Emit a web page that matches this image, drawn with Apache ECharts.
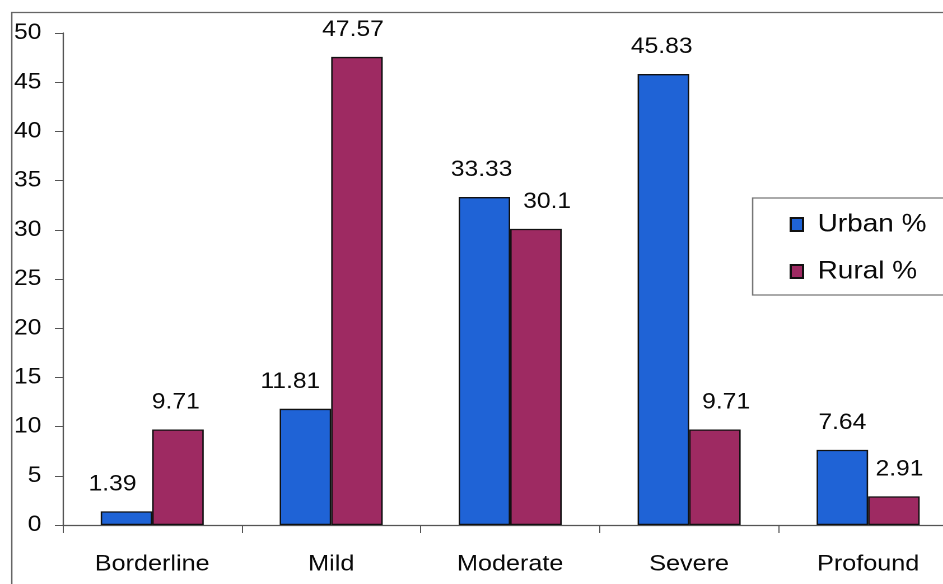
<!DOCTYPE html>
<html>
<head>
<meta charset="utf-8">
<script src="https://cdn.jsdelivr.net/npm/echarts@6/dist/echarts.min.js"></script>
<style>
  html, body { margin: 0; padding: 0; background: #fff; overflow: hidden; width: 943px; height: 584px; }
  /* the chart is drawn at a narrower width and widened horizontally */
  #chart { width: 880px; height: 584px; transform: scaleX(1.12); transform-origin: 0 0; }
</style>
</head>
<body>
<div id="chart"></div>
<script>
// Categories and series values
const categories = ['Borderline', 'Mild', 'Moderate', 'Severe', 'Profound'];
const urbanValues = [1.39, 11.81, 33.33, 45.83, 7.64];
const ruralValues = [9.71, 47.57, 30.1, 9.71, 2.91];
const seriesNames = ['Urban %', 'Rural %'];
const yTicks = { min: 0, max: 50, interval: 5 };

// Horizontal nudges for individual value labels (keeps neighbours apart)
const urbanLabelShift = [-12.5, -13.5, -2.5, -1.5, 0];
const ruralLabelShift = [-2, -3.5, 10, 10, 5];

const FONT = '"Liberation Sans", Arial, sans-serif';
const BLUE = '#1f63d6';
const MAROON = '#9e2a62';
const INK = '#0a0a0a';

function buildData(values, shifts) {
  return values.map((v, i) => ({ value: v, label: { offset: [shifts[i], 0] } }));
}

const chart = echarts.init(document.getElementById('chart'), null, { devicePixelRatio: 2 });

const labelStyle = {
  show: true,
  position: 'top',
  distance: 16,
  fontFamily: FONT,
  fontSize: 22,
  color: INK,
  formatter: p => String(p.value)
};

chart.setOption({
  backgroundColor: '#fff',
  animation: false,
  graphic: [{
    type: 'rect',
    left: 8, top: 10,
    shape: { width: 1000, height: 700 },
    style: { fill: 'none', stroke: '#666', lineWidth: 1.3 },
    z: -1
  }],
  grid: { left: 56, top: 33, width: 799, height: 492, containLabel: false },
  legend: {
    orient: 'vertical',
    left: 672, top: 198,
    padding: [14, 40, 11, 33],
    itemGap: 22,
    icon: 'rect',
    itemWidth: 11, itemHeight: 13,
    backgroundColor: '#fff',
    borderColor: '#777', borderWidth: 1.3,
    textStyle: { fontFamily: FONT, fontSize: 25, color: INK, padding: [0, 0, 0, 8] },
    data: seriesNames
  },
  xAxis: {
    type: 'category',
    data: categories,
    axisLine: { lineStyle: { color: '#555', width: 1.2 } },
    axisTick: { show: true, length: 8, lineStyle: { color: '#555' } },
    axisLabel: { fontFamily: FONT, fontSize: 22.5, color: INK, margin: 28 }
  },
  yAxis: {
    type: 'value',
    min: yTicks.min, max: yTicks.max, interval: yTicks.interval,
    axisLine: { show: true, lineStyle: { color: '#555', width: 1.2 } },
    axisTick: { show: true, length: 7, lineStyle: { color: '#555' } },
    splitLine: { show: false },
    axisLabel: { fontFamily: FONT, fontSize: 22, color: INK, margin: 19 }
  },
  series: [
    {
      name: seriesNames[0],
      type: 'bar',
      data: buildData(urbanValues, urbanLabelShift),
      barWidth: 46,
      barGap: '0%',
      itemStyle: { color: BLUE, borderColor: '#111', borderWidth: 1.3 },
      label: labelStyle
    },
    {
      name: seriesNames[1],
      type: 'bar',
      data: buildData(ruralValues, ruralLabelShift),
      barWidth: 46,
      barGap: '0%',
      itemStyle: { color: MAROON, borderColor: '#111', borderWidth: 1.3 },
      label: labelStyle
    }
  ]
});
</script>
</body>
</html>
